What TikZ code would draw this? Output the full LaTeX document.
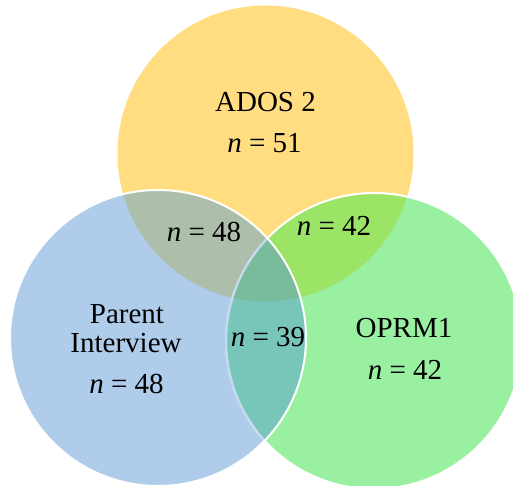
\documentclass[tikz,border=0pt]{standalone}
\usepackage{fontspec}
\setmainfont{Liberation Serif}
\definecolor{cy}{HTML}{FFDD80}
\definecolor{cb}{HTML}{AFCDEA}
\definecolor{cg}{HTML}{98F0A0}
\definecolor{cyb}{HTML}{ADBEAA}
\definecolor{cyg}{HTML}{9BE466}
\definecolor{cbg}{HTML}{78C6BA}
\definecolor{cybg}{HTML}{78BC9C}
\begin{document}
\begin{tikzpicture}[x=1pt,y=-1pt,
  lbl/.style={font=\fontsize{29}{34}\selectfont, anchor=base, inner sep=0pt, text=black},
  ring/.style={draw=white, line width=2pt}]
\useasboundingbox (0,0) rectangle (513,486);
\clip (0,0) rectangle (513,486);
% circle centres
\coordinate (cA) at (265.5,153.5); % ADOS 2
\coordinate (cP) at (158,338);     % Parent Interview
\coordinate (cO) at (374,341);     % OPRM1
\def\pA{(cA) circle [radius=148pt]}
\def\pP{(cP) circle [radius=148pt]}
\def\pO{(cO) circle [radius=148pt]}
% single sets
\fill[cy] \pA;
\fill[cg] \pO;
\fill[cb] \pP;
% pairwise overlaps
\begin{scope}\clip \pA; \fill[cyg] \pO; \end{scope}
\begin{scope}\clip \pA; \fill[cyb] \pP; \end{scope}
\begin{scope}\clip \pO; \fill[cbg] \pP; \end{scope}
% triple overlap
\begin{scope}\clip \pA; \clip \pO; \fill[cybg] \pP; \end{scope}
% outlines
\draw[ring] \pO;
\begin{scope}\clip \pP; \draw[draw=cb, line width=2pt, draw opacity=0.75] \pO; \end{scope}
\draw[ring] \pP;
% labels
\node[lbl] (tA) at (265.5,112) {ADOS 2};
\node[lbl] (nA) at (264.5,153) {\textit{n} = 51};
\node[lbl] (nAP) at (204,241) {\textit{n} = 48};
\node[lbl] (nAO) at (334,235) {\textit{n} = 42};
\node[lbl] (nAll) at (268,346) {\textit{n} = 39};
\node[lbl] (tP1) at (127,323) {Parent};
\node[lbl] (tP2) at (126,352) {Interview};
\node[lbl] (nP) at (126.5,393) {\textit{n} = 48};
\node[lbl] (tO) at (404,337) {OPRM1};
\node[lbl] (nO) at (405,379) {\textit{n} = 42};
\end{tikzpicture}
\end{document}
